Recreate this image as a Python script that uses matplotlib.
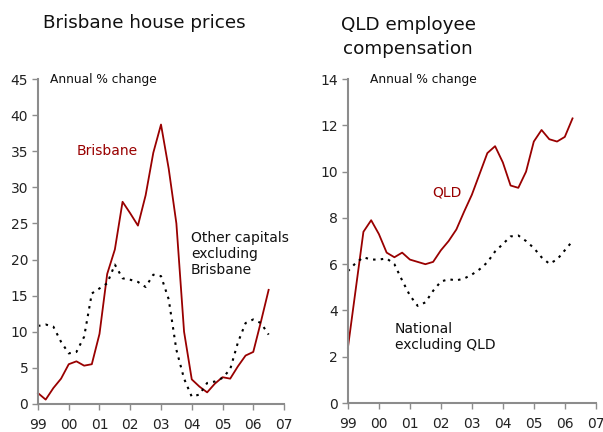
import numpy as np
import matplotlib as mpl
mpl.use('Agg')
import matplotlib.pyplot as plt

plt.rcParams['font.family'] = 'DejaVu Sans'

# quarterly data, 1999Q1 onward
brisbane = [1.5, 0.6, 2.2, 3.5, 5.5, 5.9, 5.3, 5.5, 9.7, 18.0, 21.4, 28.0, 26.4, 24.7, 28.9, 34.8,
            38.7, 32.6, 25.0, 10.0, 3.4, 2.4, 1.6, 2.8, 3.7, 3.5, 5.2, 6.7, 7.2, 11.4, 15.8]
other_caps = [10.8, 11.0, 10.7, 8.6, 7.0, 7.2, 9.3, 15.3, 16.0, 16.7, 19.3, 17.4, 17.2, 16.9, 16.2, 17.9,
              17.7, 14.5, 7.5, 3.5, 1.0, 1.3, 2.9, 3.1, 3.6, 4.8, 8.5, 11.2, 11.7, 11.2, 9.6]
qld = [2.4, 4.9, 7.4, 7.9, 7.3, 6.5, 6.3, 6.5, 6.2, 6.1, 6.0, 6.1, 6.6, 7.0, 7.5, 8.27,
       9.0, 9.9, 10.8, 11.1, 10.4, 9.4, 9.3, 10.0, 11.3, 11.8, 11.4, 11.3, 11.5, 12.3]
national = [5.7, 6.05, 6.3, 6.2, 6.2, 6.25, 6.0, 5.3, 4.65, 4.2, 4.35, 4.85, 5.25, 5.35, 5.3, 5.38,
            5.55, 5.78, 6.08, 6.55, 6.87, 7.2, 7.24, 7.0, 6.7, 6.3, 6.02, 6.2, 6.6, 7.0]
year_labels = ['99', '00', '01', '02', '03', '04', '05', '06', '07']

red = '#990000'
grey = '#8c8c8c'

fig = plt.figure(figsize=(6.03, 4.32), dpi=100)
ax1 = fig.add_axes([0.063, 0.065, 0.408, 0.752])
ax2 = fig.add_axes([0.577, 0.067, 0.411, 0.750])


def style(ax, ymax, ystep):
    for s in ['top', 'right']:
        ax.spines[s].set_visible(False)
    for s in ['left', 'bottom']:
        ax.spines[s].set_color(grey)
        ax.spines[s].set_linewidth(1.5)
    ax.set_xlim(1999, 2007)
    ax.set_ylim(0, ymax)
    ax.set_xticks(np.arange(1999, 2008))
    ax.set_xticklabels(year_labels)
    ax.set_yticks(np.arange(0, ymax + 0.1, ystep))
    ax.tick_params(direction='out', length=4, width=1, color=grey, labelsize=10, pad=3,
                   labelcolor='#222222')
    ax.tick_params(axis='x', pad=6)


x1 = 1999 + np.arange(len(brisbane)) / 4.0
x2 = 1999 + np.arange(len(qld)) / 4.0

ax1.plot(x1, brisbane, color=red, lw=1.3, clip_on=False)
ax1.plot(x1, other_caps, color='black', lw=1.5, linestyle=(0, (1.2, 2.5)), clip_on=False)
style(ax1, 45, 5)
ax1.text(2000.27, 35, 'Brisbane', color=red, fontsize=10, va='center')
ax1.text(2003.97, 20.8, 'Other capitals\nexcluding\nBrisbane', color='#111111', fontsize=10,
         va='center', linespacing=1.2)
ax1.text(1999.38, 45, 'Annual % change', fontsize=8.8, va='center', color='#111111')

ax2.plot(x2, qld, color=red, lw=1.3, clip_on=False)
ax2.plot(x2, national, color='black', lw=1.5, linestyle=(0, (1.2, 2.5)), clip_on=False)
style(ax2, 14, 2)
ax2.text(2001.71, 9.1, 'QLD', color=red, fontsize=10, va='center')
ax2.text(2000.52, 2.85, 'National\nexcluding QLD', color='#111111', fontsize=10,
         va='center', linespacing=1.2)
ax2.text(1999.7, 14, 'Annual % change', fontsize=8.8, va='center', color='#111111')

fig.text(0.239, 0.947, 'Brisbane house prices', ha='center', va='center', fontsize=13.2,
         color='#111111')
fig.text(0.677, 0.915, 'QLD employee\ncompensation', ha='center', va='center', fontsize=13.2,
         linespacing=1.4, color='#111111')

fig.savefig('out.png', dpi=100)
